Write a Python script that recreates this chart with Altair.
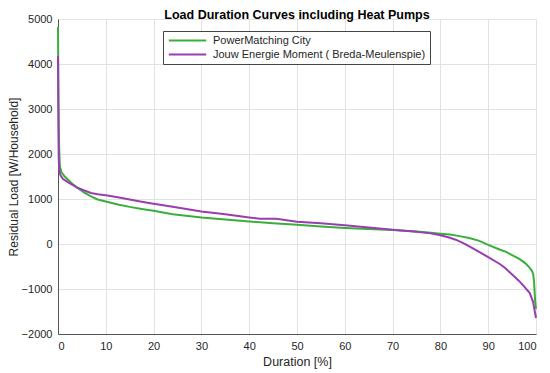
import altair as alt
import pandas as pd

# PowerMatching City
pmc_x = [0, 0.05, 0.1, 0.2, 0.3, 0.4, 0.7, 1.4, 2.8, 4.2, 5.5, 6.9, 8.3, 10, 12.5, 15, 17.5, 20,
         24, 30, 35, 40, 45, 50, 55, 60, 65, 70, 75, 78, 80, 82, 84, 86, 88, 90, 92.5, 93.6,
         95, 96.5, 97.8, 98.7, 99.1, 99.4, 99.6, 99.8, 100]
pmc_y = [4820, 4000, 3200, 2300, 1950, 1720, 1600, 1500, 1355, 1240, 1140, 1058, 990, 945, 880, 825, 780, 740,
         660, 590, 545, 500, 462, 430, 390, 356, 333, 311, 280, 250, 230, 210, 175, 135, 75, -20, -127, -170,
         -245, -330, -430, -530, -590, -660, -850, -1240, -1440]

# Jouw Energie Moment ( Breda-Meulenspie)
jem_x = [0, 0.05, 0.1, 0.15, 0.25, 0.5, 1.05, 2.4, 4.2, 5.5, 6.9, 8.3, 10, 12.5, 15, 17.5, 20, 24, 30,
         35, 40, 42.2, 45.7, 50, 55, 60, 65, 70, 75, 78, 80, 82, 83.2, 85, 86.7, 88, 90, 92.5, 93.6,
         95, 96.4, 97.5, 98.7, 99.4, 100]
jem_y = [4185, 3300, 2500, 1900, 1650, 1530, 1444, 1355, 1244, 1190, 1133, 1105, 1085, 1040, 990, 940, 895, 830, 724,
         660, 591, 562, 562, 496, 462, 415, 367, 318, 270, 236, 195, 140, 96, 10, -90, -170, -290, -450, -540,
         -680, -815, -940, -1090, -1290, -1645]

names = ["PowerMatching City", "Jouw Energie Moment ( Breda-Meulenspie)"]
colors = ["#3aae3a", "#9a3db0"]

df_pmc = pd.DataFrame({"x": pmc_x, "y": pmc_y, "series": names[0]})
df_jem = pd.DataFrame({"x": jem_x, "y": jem_y, "series": names[1]})

FONT = "Liberation Sans, Arial, Helvetica, sans-serif"
TXT = "#262626"

xenc = alt.X("x:Q", scale=alt.Scale(domain=[0, 100], nice=False),
             axis=alt.Axis(title="Duration [%]", values=list(range(0, 101, 10)), format="d",
                           grid=True, gridColor="#e2e2e2", ticks=False, labelPadding=6,
                           domainColor="#555555", labelFontSize=11, titleFontSize=12.5,
                           titleFontWeight="normal", titlePadding=4, labelColor=TXT, titleColor=TXT,
                           labelFont=FONT, titleFont=FONT))
yenc = alt.Y("y:Q", scale=alt.Scale(domain=[-2000, 5000], nice=False),
             axis=alt.Axis(title="Residual Load [W/Household]", values=list(range(-2000, 5001, 1000)),
                           format="d",
                           grid=True, gridColor="#e2e2e2", ticks=False, labelPadding=6,
                           domainColor="#555555", labelFontSize=11, titleFontSize=12,
                           titleFontWeight="normal", titlePadding=1, labelColor=TXT, titleColor=TXT,
                           labelFont=FONT, titleFont=FONT))
cenc = alt.Color("series:N", scale=alt.Scale(domain=names, range=colors),
                 legend=alt.Legend(title=None, orient="none", legendX=105, legendY=12,
                                   symbolType="M-5,0L5,0", symbolSize=56, symbolStrokeWidth=2,
                                   symbolOffset=15, labelOffset=20, labelFontSize=11, labelFont=FONT,
                                   labelColor=TXT, labelLimit=400, padding=4, rowPadding=2,
                                   strokeColor="#444444", fillColor="white"))

l1 = alt.Chart(df_pmc).mark_line(strokeWidth=2).encode(x=xenc, y=yenc, color=cenc)
l2 = alt.Chart(df_jem).mark_line(strokeWidth=2).encode(x=xenc, y=yenc, color=cenc)

chart = alt.layer(l1, l2).properties(
    width=478, height=315,
    autosize=alt.AutoSizeParams(type="none"),
    padding={"left": 50, "top": 11, "right": 6, "bottom": 40},
    title=alt.TitleParams("Load Duration Curves including Heat Pumps", fontSize=12.5, fontWeight="bold",
                          font=FONT, color="#000000", offset=0, baseline="bottom", anchor="middle",
                          frame="group", dy=21),
).configure_view(stroke=None)

chart.save("out.html", embed_options={"renderer": "svg", "actions": False})
